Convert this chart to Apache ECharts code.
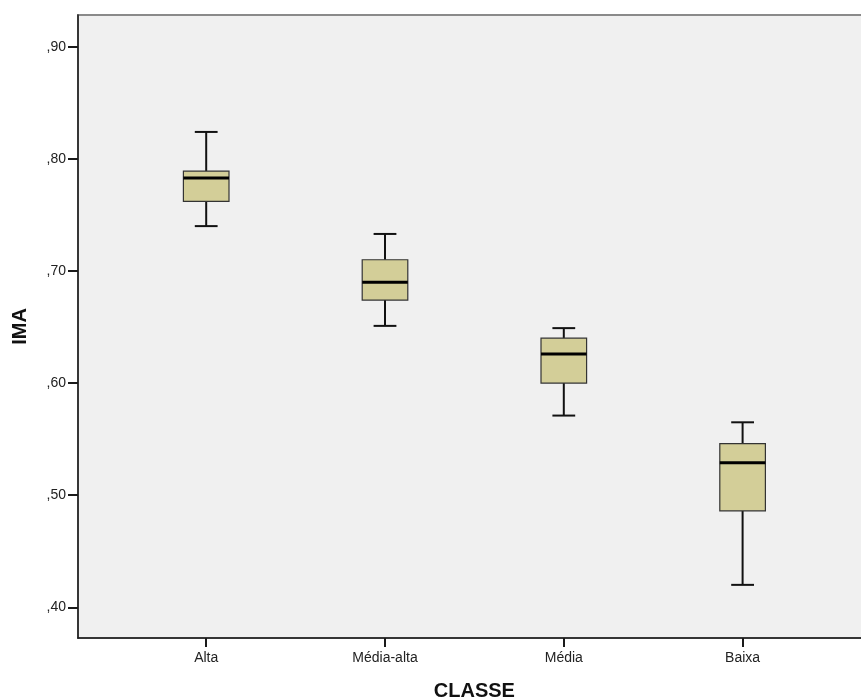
<!DOCTYPE html>
<html>
<head>
<meta charset="utf-8">
<script src="https://cdn.jsdelivr.net/npm/echarts@6/dist/echarts.min.js"></script>
<style>
html,body{margin:0;padding:0;background:#fff;}
#chart{width:861px;height:699px;}
</style>
</head>
<body>
<div id="chart"></div>
<script>
const categories = ['Alta', 'Média-alta', 'Média', 'Baixa'];
const minVals = [0.740, 0.651, 0.571, 0.420];
const q1Vals  = [0.762, 0.674, 0.600, 0.486];
const medVals = [0.783, 0.690, 0.626, 0.529];
const q3Vals  = [0.789, 0.710, 0.640, 0.546];
const maxVals = [0.824, 0.733, 0.649, 0.565];
const yTickValues = [0.4, 0.5, 0.6, 0.7, 0.8, 0.9];
const yMin = 0.3726, yMax = 0.9283;

const boxData = categories.map((c, i) => [i, minVals[i], q1Vals[i], medVals[i], q3Vals[i], maxVals[i]]);

const chart = echarts.init(document.getElementById('chart'));
const font = 'Liberation Sans, Arial, sans-serif';

chart.setOption({
  animation: false,
  backgroundColor: '#ffffff',
  grid: [
    {left: 78, top: 15, width: 820, bottom: 61, show: true, backgroundColor: '#f0f0f0',
     borderColor: '#8a8a8a', borderWidth: 2, outerBoundsMode: 'none', containLabel: false},
    {left: 116.8, top: 15, width: 715.2, bottom: 61, outerBoundsMode: 'none', containLabel: false}
  ],
  xAxis: [
    {type: 'value', gridIndex: 0, min: 0, max: 1,
     axisLine: {show: true, lineStyle: {color: '#1a1a1a', width: 1.5}},
     axisTick: {show: false}, axisLabel: {show: false}, splitLine: {show: false}},
    {type: 'category', gridIndex: 1, data: categories, boundaryGap: true,
     axisLine: {show: false},
     axisTick: {show: true, alignWithLabel: true, length: 9, lineStyle: {color: '#1a1a1a', width: 2}},
     axisLabel: {margin: 13, color: '#222', fontSize: 14, fontFamily: font},
     name: 'CLASSE', nameLocation: 'middle', nameGap: 43,
     nameTextStyle: {fontSize: 20, fontWeight: 'bold', color: '#111', fontFamily: font},
     splitLine: {show: false}}
  ],
  yAxis: [
    {type: 'value', gridIndex: 0, min: yMin, max: yMax,
     axisLine: {show: true, lineStyle: {color: '#1a1a1a', width: 1.5}},
     axisTick: {show: true, length: 10, customValues: yTickValues, lineStyle: {color: '#1a1a1a', width: 2}},
     axisLabel: {show: true, customValues: yTickValues, margin: 12, color: '#222', fontSize: 14, fontFamily: font,
       formatter: v => ',' + Math.round(v * 100)},
     splitLine: {show: false},
     name: 'IMA', nameLocation: 'middle', nameGap: 48,
     nameTextStyle: {fontSize: 20, fontWeight: 'bold', color: '#111', fontFamily: font}},
    {type: 'value', gridIndex: 1, min: yMin, max: yMax, show: false, splitLine: {show: false}}
  ],
  series: [{
    type: 'custom',
    xAxisIndex: 1, yAxisIndex: 1,
    encode: {x: 0, y: [1, 2, 3, 4, 5]},
    data: boxData,
    renderItem: function (params, api) {
      const i = api.value(0);
      const pMin = api.coord([i, api.value(1)]);
      const pQ1 = api.coord([i, api.value(2)]);
      const pMed = api.coord([i, api.value(3)]);
      const pQ3 = api.coord([i, api.value(4)]);
      const pMax = api.coord([i, api.value(5)]);
      const band = api.size([1, 0])[0];
      const bw = band * 0.255;
      const cw = bw * 0.5;
      const x = pMed[0];
      const lineStyle = {stroke: '#111', lineWidth: 2};
      return {
        type: 'group',
        children: [
          {type: 'line', shape: {x1: x, y1: pMin[1], x2: x, y2: pQ1[1]}, style: lineStyle},
          {type: 'line', shape: {x1: x, y1: pQ3[1], x2: x, y2: pMax[1]}, style: lineStyle},
          {type: 'line', shape: {x1: x - cw / 2, y1: pMin[1], x2: x + cw / 2, y2: pMin[1]}, style: lineStyle},
          {type: 'line', shape: {x1: x - cw / 2, y1: pMax[1], x2: x + cw / 2, y2: pMax[1]}, style: lineStyle},
          {type: 'rect', shape: {x: x - bw / 2, y: pQ3[1], width: bw, height: pQ1[1] - pQ3[1]},
           style: {fill: '#d3ce98', stroke: '#333', lineWidth: 1.2}},
          {type: 'line', shape: {x1: x - bw / 2, y1: pMed[1], x2: x + bw / 2, y2: pMed[1]},
           style: {stroke: '#000', lineWidth: 3}}
        ]
      };
    }
  }]
});
</script>
</body>
</html>
